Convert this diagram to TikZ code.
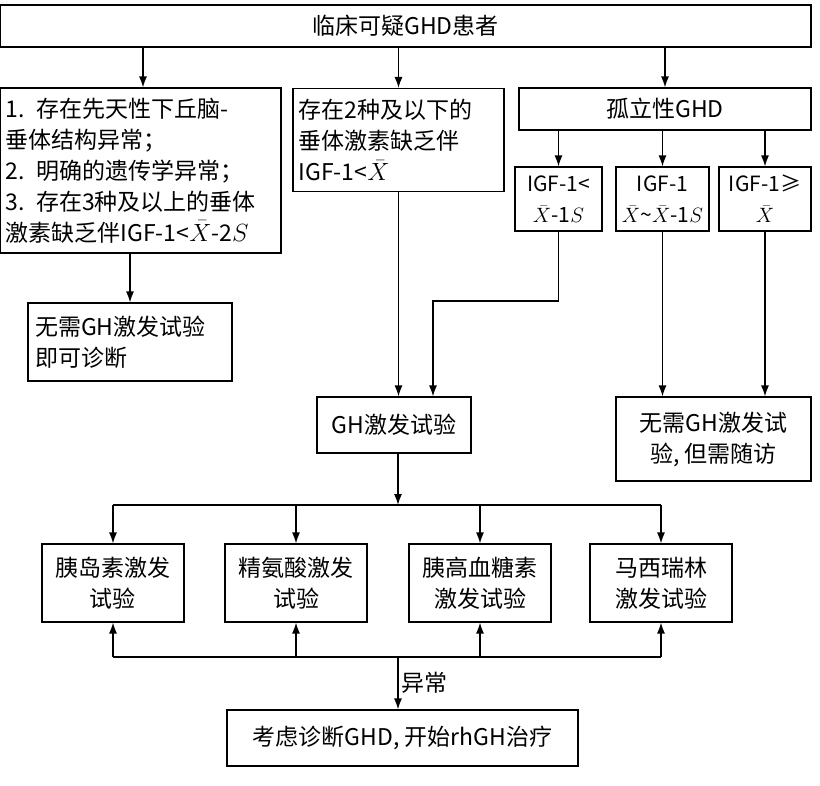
\documentclass[tikz,border=0pt]{standalone}
\usepackage{fontspec}
\setmainfont{Noto Sans CJK SC}
\usepackage{tikz}
\usetikzlibrary{calc,arrows.meta}

\tikzset{
  box/.style={draw, line width=1.2pt, inner sep=4pt, font=\fontsize{23}{31}\selectfont},
  arr/.style={-{Latex[length=11pt,width=8pt]}, line width=1.3pt},
  ln/.style={-, line width=1.3pt}
}

\begin{document}
\begin{tikzpicture}[x=1pt, y=-1pt]
\useasboundingbox (0,0) rectangle (820,786);

\node[box, minimum width=811, minimum height=42] (top) at (405.5,26) {临床可疑GHD患者};

\node[box, minimum width=281, minimum height=165, text width=270, align=left] (multi) at (140.5,170.5)
  {1. 存在先天性下丘脑-\\垂体结构异常；\\2. 明确的遗传学异常；\\3. 存在3种及以上的垂体\\激素缺乏伴IGF-1<$\bar{X}$-2$S$};
\node[box, minimum width=211, minimum height=103, text width=200, align=left, anchor=north] (few) at (398.5,88)
  {存在2种及以下的\\垂体激素缺乏伴\\IGF-1<$\bar{X}$};
\node[box, minimum width=292, minimum height=42] (iso) at (665,109) {孤立性GHD};

\node[box, minimum width=87, minimum height=64, align=center, font=\fontsize{21}{31}\selectfont] (low) at (558.5,199) {IGF-1<\\$\bar{X}$-1$S$};
\node[box, minimum width=93, minimum height=64, align=center, font=\fontsize{21}{31}\selectfont] (mid) at (662.5,199) {IGF-1\\$\bar{X}$\char`~$\bar{X}$-1$S$};
\node[box, minimum width=92, minimum height=64, align=center, font=\fontsize{21}{31}\selectfont] (high) at (765,199) {IGF-1≥\\$\bar{X}$};

\node[box, minimum width=204, minimum height=78, text width=190, align=left] (nodx) at (130,342)
  {无需GH激发试验\\即可诊断};
\node[box, minimum width=154, minimum height=56] (stim) at (394,425) {GH激发试验};
\node[box, minimum width=195, minimum height=84, align=center] (follow) at (713.5,439)
  {无需GH激发试\\验, 但需随访};

% stimulation tests
\node[box, minimum width=142, minimum height=78, align=center] (ins) at (113,583) {胰岛素激发\\试验};
\node[box, minimum width=142, minimum height=78, align=center] (arg) at (296,583) {精氨酸激发\\试验};
\node[box, minimum width=142, minimum height=78, align=center] (glu) at (480,583) {胰高血糖素\\激发试验};
\node[box, minimum width=142, minimum height=78, align=center] (mac) at (661,583) {马西瑞林\\激发试验};

\node[box, minimum width=351, minimum height=56] (treat) at (402.5,738) {考虑诊断GHD, 开始rhGH治疗};

\coordinate (split) at (398,505);
\coordinate (merge) at (398,657);
\coordinate (bend) at (433,301);

\draw[arr] (top.south -| 143,0) -- (multi.north -| 143,0);
\draw[arr] (top.south -| few.north) -- (few.north);
\draw[arr] (top.south -| iso.north) -- (iso.north);
\draw[arr] (iso.south -| low.north) -- (low.north);
\draw[arr] (iso.south -| mid.north) -- (mid.north);
\draw[arr] (iso.south -| high.north) -- (high.north);

\draw[arr] (multi.south -| nodx.north) -- (nodx.north);
\draw[arr] (few.south) -- (few.south |- stim.north);
\draw[arr] (low.south) |- (bend) -- (bend |- stim.north);
\draw[arr] (mid.south) -- (mid.south |- follow.north);
\draw[arr] (high.south) -- (high.south |- follow.north);

\draw[arr] (stim.south -| split) -- (split);
\draw[ln] (split -| ins.north) -- (split -| mac.north);
\foreach \t in {ins, arg, glu, mac}
  \draw[arr] (split -| \t.north) -- (\t.north);

\draw[ln] (merge -| ins.south) -- (merge -| mac.south);
\foreach \t in {ins, arg, glu, mac}
  \draw[arr] (merge -| \t.south) -- (\t.south);
\draw[arr] (merge) -- node[right, font=\fontsize{23}{26}\selectfont] {异常} (merge |- treat.north);

\end{tikzpicture}
\end{document}
